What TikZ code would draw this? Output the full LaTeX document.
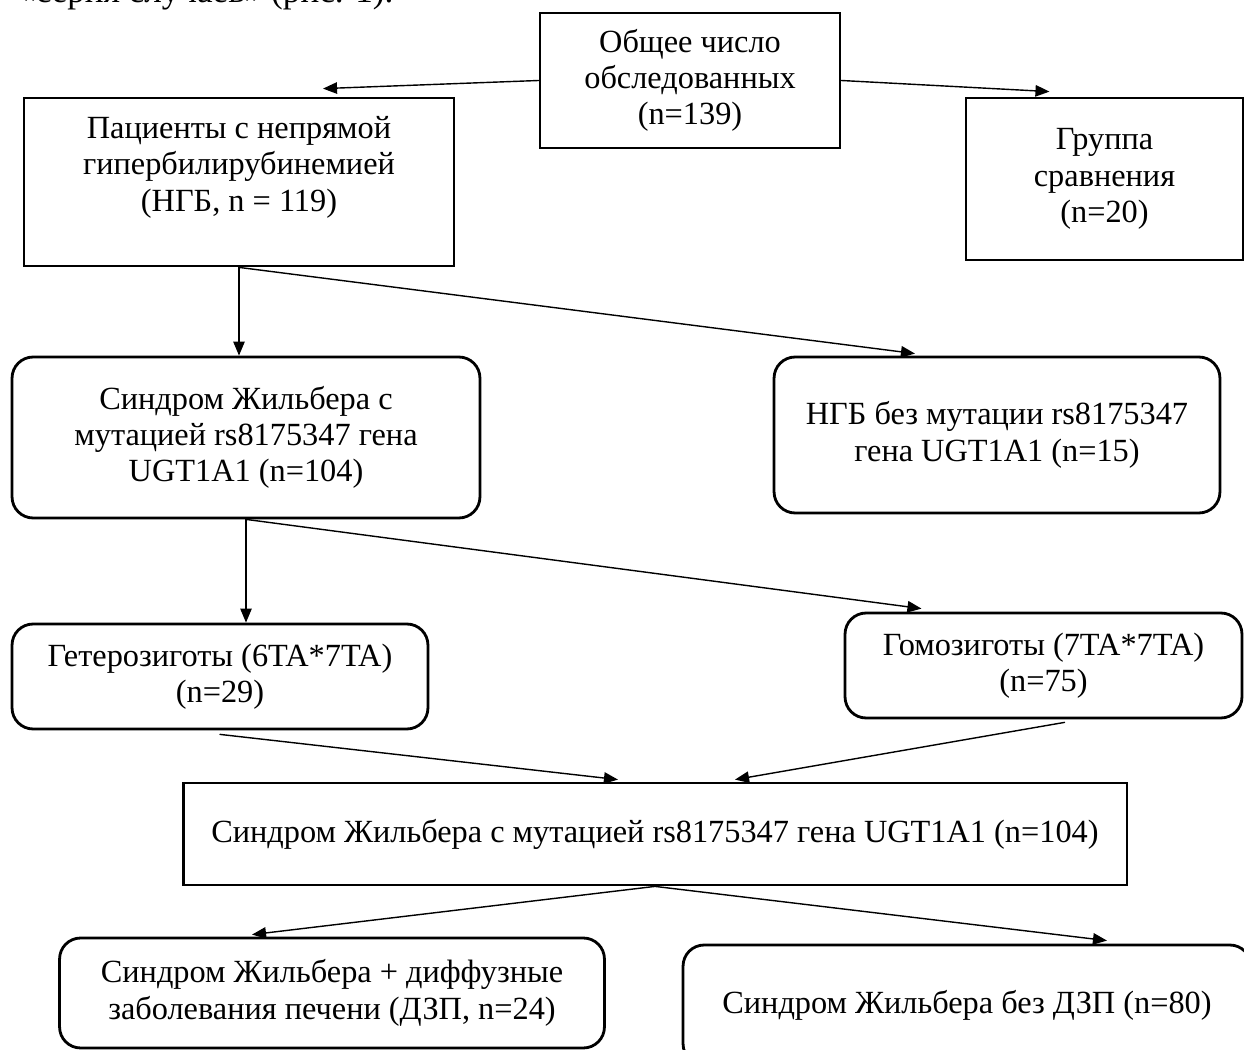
\documentclass[tikz,border=0pt]{standalone}
\usepackage{fontspec}
\setmainfont{Liberation Serif}
\usepackage{tikz}
\usetikzlibrary{arrows.meta,calc}
\tikzset{>={Triangle[length=8pt,width=6.5pt]},
  box/.style={draw,line width=1.6pt,rectangle,align=center,inner sep=0pt},
  rbox/.style={box,rounded corners=12pt},
  link/.style={->,line width=0.8pt}}

\begin{document}
\begin{tikzpicture}[x=0.02cm,y=-0.02cm,line cap=round,
  every node/.style={font=\fontsize{18.4}{20.7}\selectfont}]

  \useasboundingbox (0,0) rectangle (1244,1050);
  \clip (0,0) rectangle (1244,1050);

  \node[anchor=base west,font=\fontsize{20}{23}\selectfont] (prev) at (12,3)
    {«серия случаев» (рис. 1).};

  % first level
  \node[box,minimum width=6cm,minimum height=2.7cm] (tot) at (690,80.5)
    {Общее число\\обследованных\\(n=139)};
  \node[box,minimum width=8.6cm,minimum height=3.36cm] (pat) at (239,182)
    {Пациенты с непрямой\\гипербилирубинемией\\(НГБ, n = 119)\\~};
  \node[box,minimum width=5.54cm,minimum height=3.24cm] (cmp) at (1104.5,179)
    {Группа\\сравнения\\(n=20)};

  % second level
  \node[rbox,minimum width=9.36cm,minimum height=3.22cm] (gs) at (246,437.5)
    {Синдром Жильбера с\\мутацией rs8175347 гена\\UGT1A1 (n=104)};
  \node[rbox,minimum width=8.92cm,minimum height=3.12cm] (ngb) at (997,435)
    {НГБ без мутации rs8175347\\гена UGT1A1 (n=15)};

  % genotypes
  \node[rbox,minimum width=8.32cm,minimum height=2.1cm] (het) at (220,676.5)
    {Гетерозиготы (6TA*7TA)\\(n=29)};
  \node[rbox,minimum width=7.94cm,minimum height=2.1cm] (hom) at (1043.5,665.5)
    {Гомозиготы (7TA*7TA)\\(n=75)};

  \node[box,minimum width=18.88cm,minimum height=2.04cm] (all) at (655,834)
    {Синдром Жильбера с мутацией rs8175347 гена UGT1A1 (n=104)};

  \node[rbox,minimum width=10.9cm,minimum height=2.2cm] (dzp) at (332,993)
    {Синдром Жильбера + диффузные\\заболевания печени (ДЗП, n=24)};
  \node[rbox,minimum width=11.36cm,minimum height=2.4cm] (nodzp) at (967,1005)
    {Синдром Жильбера без ДЗП (n=80)};

  \draw[link] (tot.west) -- ($(pat.north)+(84,-8)$);
  \draw[link] (tot.east) -- ($(cmp.north)+(-55,-5)$);

  \draw[link] (pat.south) -- (pat.south |- gs.north);
  \draw[link] (pat.south) -- ($(ngb.north)+(-82,-2)$);

  \draw[link] (gs.south) -- (gs.south |- het.north);
  \draw[link] (gs.south) -- ($(hom.north)+(-122,-3)$);

  \draw[link] ($(het.south)+(0,4)$) -- ($(all.north)+(-37,-2)$);
  \draw[link] ($(hom.south)+(21,3)$) -- ($(all.north)+(80,-2)$);

  \draw[link] (all.south) -- ($(dzp.north)+(-80,-2)$);
  \draw[link] (all.south) -- ($(nodzp.north)+(140,-3)$);

\end{tikzpicture}
\end{document}
